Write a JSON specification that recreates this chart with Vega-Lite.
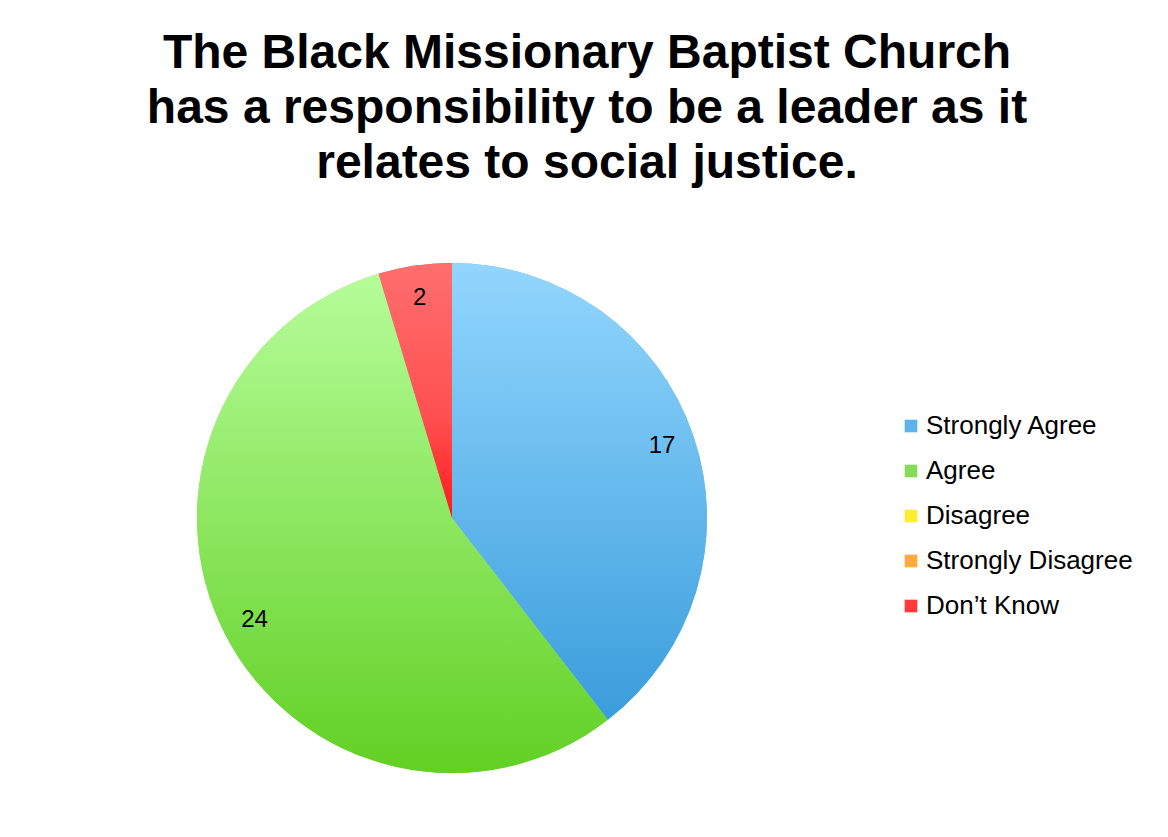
{
  "$schema": "https://vega.github.io/schema/vega-lite/v6.json",
  "autosize": {"type": "none"},
  "padding": {"left": 0, "top": 263, "right": 264, "bottom": 64},
  "width": 904,
  "height": 510,
  "background": "white",
  "config": {"view": {"stroke": null}, "font": "Liberation Sans"},
  "title": {
    "text": ["The Black Missionary Baptist Church", "has a responsibility to be a leader as it", "relates to social justice."],
    "fontSize": 48,
    "fontWeight": "bold",
    "font": "Liberation Sans",
    "color": "black",
    "lineHeight": 55,
    "anchor": "middle",
    "dx": 135,
    "offset": 75
  },
  "data": {
    "values": [
      {"category": "Strongly Agree", "count": 17, "order": 1},
      {"category": "Agree", "count": 24, "order": 2},
      {"category": "Disagree", "count": 0, "order": 3},
      {"category": "Strongly Disagree", "count": 0, "order": 4},
      {"category": "Don’t Know", "count": 2, "order": 5}
    ]
  },
  "layer": [
    {
      "mark": {"type": "arc", "radius": 255},
      "encoding": {
        "theta": {"field": "count", "type": "quantitative", "stack": true},
        "order": {"field": "order", "type": "quantitative"},
        "color": {
          "field": "category",
          "type": "nominal",
          "scale": {
            "domain": ["Strongly Agree", "Agree", "Disagree", "Strongly Disagree", "Don’t Know"],
            "range": ["#5cb4ea", "#86dc5a", "#ffee30", "#ffaa3c", "#ff3a3a"]
          },
          "legend": {
            "orient": "none",
            "legendX": 898,
            "legendY": 150,
            "title": null,
            "symbolType": "square",
            "symbolSize": 160,
            "symbolStrokeWidth": 0,
            "symbolOpacity": 1,
            "labelFontSize": 26,
            "labelFont": "Liberation Sans",
            "labelColor": "black",
            "labelLimit": 300,
            "rowPadding": 19,
            "labelOffset": 2
          }
        }
      }
    },
    {
      "mark": {"type": "arc", "radius": 255},
      "encoding": {
        "theta": {"field": "count", "type": "quantitative", "stack": true},
        "order": {"field": "order", "type": "quantitative"},
        "fill": {
          "condition": [
            {"test": "datum.category === 'Strongly Agree'", "value": {"gradient": "linear", "x1": 0, "y1": 0, "x2": 0, "y2": 1, "stops": [{"offset": 0, "color": "#92d6fe"}, {"offset": 1, "color": "#3a9ddb"}]}},
            {"test": "datum.category === 'Agree'", "value": {"gradient": "linear", "x1": 0, "y1": 0, "x2": 0, "y2": 1, "stops": [{"offset": 0, "color": "#b6fd9a"}, {"offset": 1, "color": "#62d024"}]}}
          ],
          "value": {"gradient": "linear", "x1": 0, "y1": 0, "x2": 0, "y2": 1, "stops": [{"offset": 0, "color": "#ff6e6e"}, {"offset": 0.6, "color": "#ff5050"}, {"offset": 1, "color": "#ff1a1a"}]}
        }
      }
    },
    {
      "transform": [{"filter": "datum.count > 0"}],
      "mark": {"type": "text", "radius": 222, "fontSize": 24, "font": "Liberation Sans", "color": "black"},
      "encoding": {
        "theta": {"field": "count", "type": "quantitative", "stack": true},
        "order": {"field": "order", "type": "quantitative"},
        "text": {"field": "count", "type": "quantitative"}
      }
    }
  ]
}
